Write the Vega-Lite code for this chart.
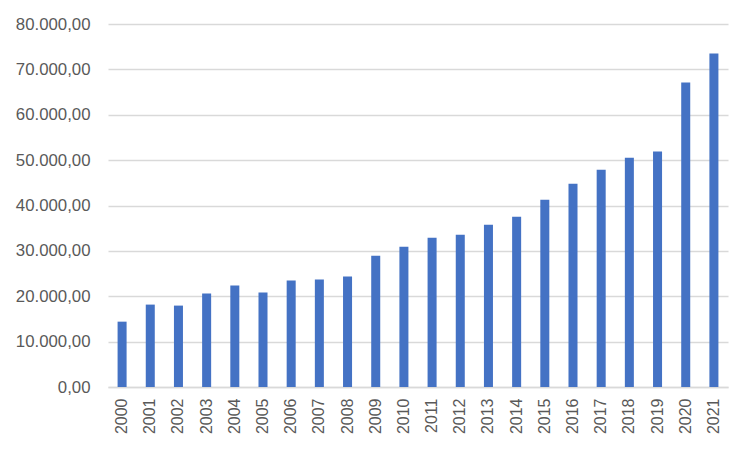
{
  "$schema": "https://vega.github.io/schema/vega-lite/v6.json",
  "width": 620,
  "height": 363,
  "autosize": {"type": "none"},
  "padding": {"left": 108, "top": 24, "right": 24, "bottom": 65},
  "background": "#ffffff",
  "config": {
    "locale": {"number": {"decimal": ",", "thousands": ".", "grouping": [3], "currency": ["", " €"]}},
    "view": {"stroke": null},
    "font": "Liberation Sans"
  },
  "data": {
    "values": [
      {"year": "2000", "value": 14400},
      {"year": "2001", "value": 18160},
      {"year": "2002", "value": 17940},
      {"year": "2003", "value": 20600},
      {"year": "2004", "value": 22370},
      {"year": "2005", "value": 20820},
      {"year": "2006", "value": 23480},
      {"year": "2007", "value": 23700},
      {"year": "2008", "value": 24370},
      {"year": "2009", "value": 28900},
      {"year": "2010", "value": 30900},
      {"year": "2011", "value": 32900},
      {"year": "2012", "value": 33550},
      {"year": "2013", "value": 35760},
      {"year": "2014", "value": 37530},
      {"year": "2015", "value": 41280},
      {"year": "2016", "value": 44810},
      {"year": "2017", "value": 47900},
      {"year": "2018", "value": 50550},
      {"year": "2019", "value": 51880},
      {"year": "2020", "value": 67100},
      {"year": "2021", "value": 73500}
    ]
  },
  "mark": {"type": "bar", "color": "#4472C4"},
  "encoding": {
    "x": {
      "field": "year",
      "type": "ordinal",
      "scale": {"paddingInner": 0.68, "paddingOuter": 0.34},
      "axis": {
        "title": null,
        "labelAngle": -90,
        "labelAlign": "right",
        "labelBaseline": "middle",
        "labelFontSize": 16,
        "labelColor": "#595959",
        "labelPadding": 11,
        "ticks": false,
        "domainColor": "#d9d9d9",
        "domainWidth": 1.5,
        "grid": false
      }
    },
    "y": {
      "field": "value",
      "type": "quantitative",
      "scale": {"domain": [0, 80000], "nice": false},
      "axis": {
        "title": null,
        "values": [0, 10000, 20000, 30000, 40000, 50000, 60000, 70000, 80000],
        "format": ",.2f",
        "labelFontSize": 16.8,
        "labelColor": "#595959",
        "labelPadding": 18,
        "ticks": false,
        "domain": false,
        "grid": true,
        "gridColor": "#d9d9d9",
        "gridWidth": 1.5
      }
    }
  }
}
